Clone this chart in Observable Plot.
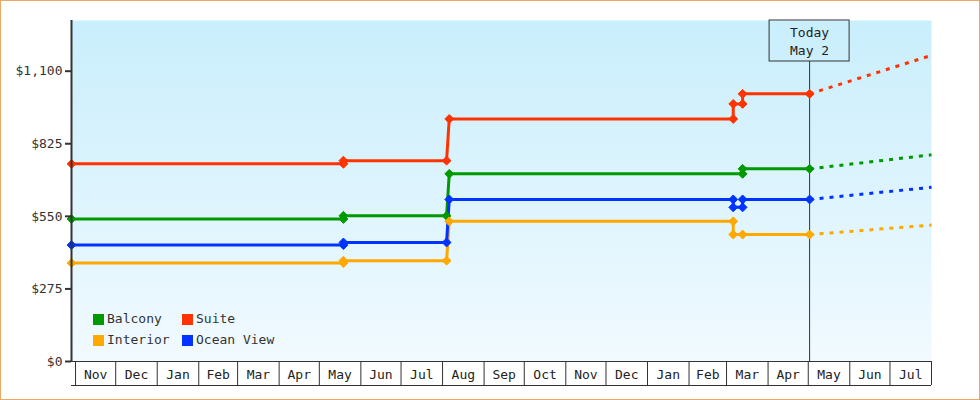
<!DOCTYPE html>
<html>
<head>
<meta charset="utf-8">
<script src="https://cdn.jsdelivr.net/npm/d3@7"></script>
<script src="https://cdn.jsdelivr.net/npm/@observablehq/plot@0.6"></script>
<style>
html, body { margin: 0; padding: 0; background: #fff; }
#wrap { position: relative; width: 980px; height: 400px; box-sizing: border-box; border: 1px solid #e8a866; overflow: hidden; background: #fff; font-family: "DejaVu Sans Mono", monospace; }
#wrap svg { display: block; }
.legend { position: absolute; left: 92px; top: 308px; display: grid; grid-template-columns: 89px auto; font-size: 13px; color: #333; line-height: 20.7px; white-space: nowrap; }
.legend .sw { display: inline-block; width: 11px; height: 11px; margin-right: 3px; vertical-align: -2px; }
</style>
</head>
<body>
<div id="wrap"></div>
<script>
// ---- data ----
const seriesNames = ["Balcony", "Suite", "Interior", "Ocean View"];
const seriesColors = ["#009900", "#ff3300", "#ffa800", "#0033ff"];

const balconyDates  = ["2023-10-29", "2024-05-19", "2024-05-19", "2024-08-04", "2024-08-06", "2025-03-13", "2025-03-13", "2025-05-02"];
const balconyPrices = [540, 540, 552, 552, 711, 711, 730, 730];

const suiteDates  = ["2023-10-29", "2024-05-19", "2024-05-19", "2024-08-04", "2024-08-06", "2025-03-06", "2025-03-06", "2025-03-13", "2025-03-13", "2025-05-02"];
const suitePrices = [749, 749, 761, 761, 919, 919, 976, 976, 1014, 1014];

const interiorDates  = ["2023-10-29", "2024-05-19", "2024-05-19", "2024-08-04", "2024-08-06", "2025-03-06", "2025-03-06", "2025-03-13", "2025-05-02"];
const interiorPrices = [373, 373, 382, 382, 531, 531, 481, 481, 481];

const oceanDates  = ["2023-10-29", "2024-05-19", "2024-05-19", "2024-08-04", "2024-08-06", "2025-03-06", "2025-03-06", "2025-03-13", "2025-03-13", "2025-05-02"];
const oceanPrices = [441, 441, 451, 451, 614, 614, 584, 584, 614, 614];

const forecastDates    = ["2025-05-02", "2025-08-01"];
const balconyForecast  = [730, 783];
const suiteForecast    = [1014, 1160];
const interiorForecast = [481, 517];
const oceanForecast    = [614, 660];

const todayDate  = "2025-05-02";
const todayLabel = "Today\nMay 2";

const yTicks = [0, 275, 550, 825, 1100];
const yMax = 1292;
const xStart = "2023-10-29";
const xEnd = "2025-08-01";
const axisMonths = ["2023-11", "2023-12", "2024-01", "2024-02", "2024-03", "2024-04", "2024-05", "2024-06", "2024-07",
  "2024-08", "2024-09", "2024-10", "2024-11", "2024-12", "2025-01", "2025-02", "2025-03", "2025-04", "2025-05", "2025-06", "2025-07"];

// ---- tables ----
const toRows = (name, dates, prices) => dates.map((d, i) => ({series: name, date: new Date(d), price: prices[i]}));
const history = [
  ...toRows("Balcony", balconyDates, balconyPrices),
  ...toRows("Suite", suiteDates, suitePrices),
  ...toRows("Interior", interiorDates, interiorPrices),
  ...toRows("Ocean View", oceanDates, oceanPrices)
];
const forecast = [
  ...toRows("Balcony", forecastDates, balconyForecast),
  ...toRows("Suite", forecastDates, suiteForecast),
  ...toRows("Interior", forecastDates, interiorForecast),
  ...toRows("Ocean View", forecastDates, oceanForecast)
];
const today = new Date(todayDate);
const monthStart = axisMonths.map(m => new Date(m + "-01"));
const monthEnd = monthStart.map(d => d3.utcMonth.offset(d, 1));
const boundaries = [...monthStart, monthEnd[monthEnd.length - 1]];
const monthMid = monthStart.map((d, i) => new Date((+d + +monthEnd[i]) / 2));

const chart = Plot.plot({
  width: 978,
  height: 398,
  marginLeft: 70,
  marginRight: 48,
  marginTop: 19,
  marginBottom: 38,
  style: {fontFamily: '"DejaVu Sans Mono", monospace', fontSize: "13px", color: "#333", background: "transparent", overflow: "visible"},
  x: {type: "utc", domain: [new Date(xStart), new Date(xEnd)], label: null},
  y: {domain: [0, yMax], label: null},
  color: {domain: seriesNames, range: seriesColors},
  marks: [
    Plot.frame({fill: "url(#bgGrad)", stroke: null}),
    Plot.ruleX([today], {stroke: "#333", strokeWidth: 1, insetTop: 41}),
    Plot.rect([today], {x1: d => d, x2: d => d, insetLeft: -40, insetRight: -40, insetBottom: 300, fill: "none", stroke: "#333", strokeWidth: 1}),
    Plot.text([today], {x: d => d, frameAnchor: "top", text: () => todayLabel, lineAnchor: "top", lineHeight: 1.35, dy: 4, fill: "#222", fontSize: 13}),
    Plot.line(forecast, {x: "date", y: "price", z: "series", stroke: "series", strokeWidth: 3, strokeDasharray: "4,6", strokeLinecap: "butt"}),
    Plot.line(history, {x: "date", y: "price", z: "series", stroke: "series", strokeWidth: 3}),
    Plot.dot(history, {x: "date", y: "price", fill: "series", stroke: "series", symbol: "diamond2", r: 4, strokeWidth: 1}),
    Plot.ruleY([0], {stroke: "#333", strokeWidth: 1}),
    Plot.ruleY([0], {stroke: "#333", strokeWidth: 1, dy: 24}),
    Plot.ruleX([new Date(xStart)], {stroke: "#333", strokeWidth: 2}),
    Plot.axisY({ticks: yTicks, tickFormat: d3.format("$,"), tickSize: 6, tickPadding: 3, stroke: "#333", strokeWidth: 2, fill: "#333", label: null}),
    Plot.axisX({ticks: boundaries, tickSize: 24, tickFormat: () => "", stroke: "#333", label: null}),
    Plot.axisX({ticks: monthMid, tickSize: 0, tickPadding: 8, tickFormat: d3.utcFormat("%b"), fill: "#222", label: null})
  ]
});

const svg = d3.select(chart);
const grad = svg.insert("defs", ":first-child").append("linearGradient")
  .attr("id", "bgGrad").attr("x1", 0).attr("y1", 0).attr("x2", 0).attr("y2", 1);
grad.append("stop").attr("offset", "0%").attr("stop-color", "#c9eefc");
grad.append("stop").attr("offset", "100%").attr("stop-color", "#f1faff");

const wrap = document.getElementById("wrap");
wrap.appendChild(chart);

const legend = document.createElement("div");
legend.className = "legend";
seriesNames.forEach((name, i) => {
  const item = document.createElement("div");
  const sw = document.createElement("span");
  sw.className = "sw";
  sw.style.background = seriesColors[i];
  item.appendChild(sw);
  item.appendChild(document.createTextNode(name));
  legend.appendChild(item);
});
wrap.appendChild(legend);
</script>
</body>
</html>
